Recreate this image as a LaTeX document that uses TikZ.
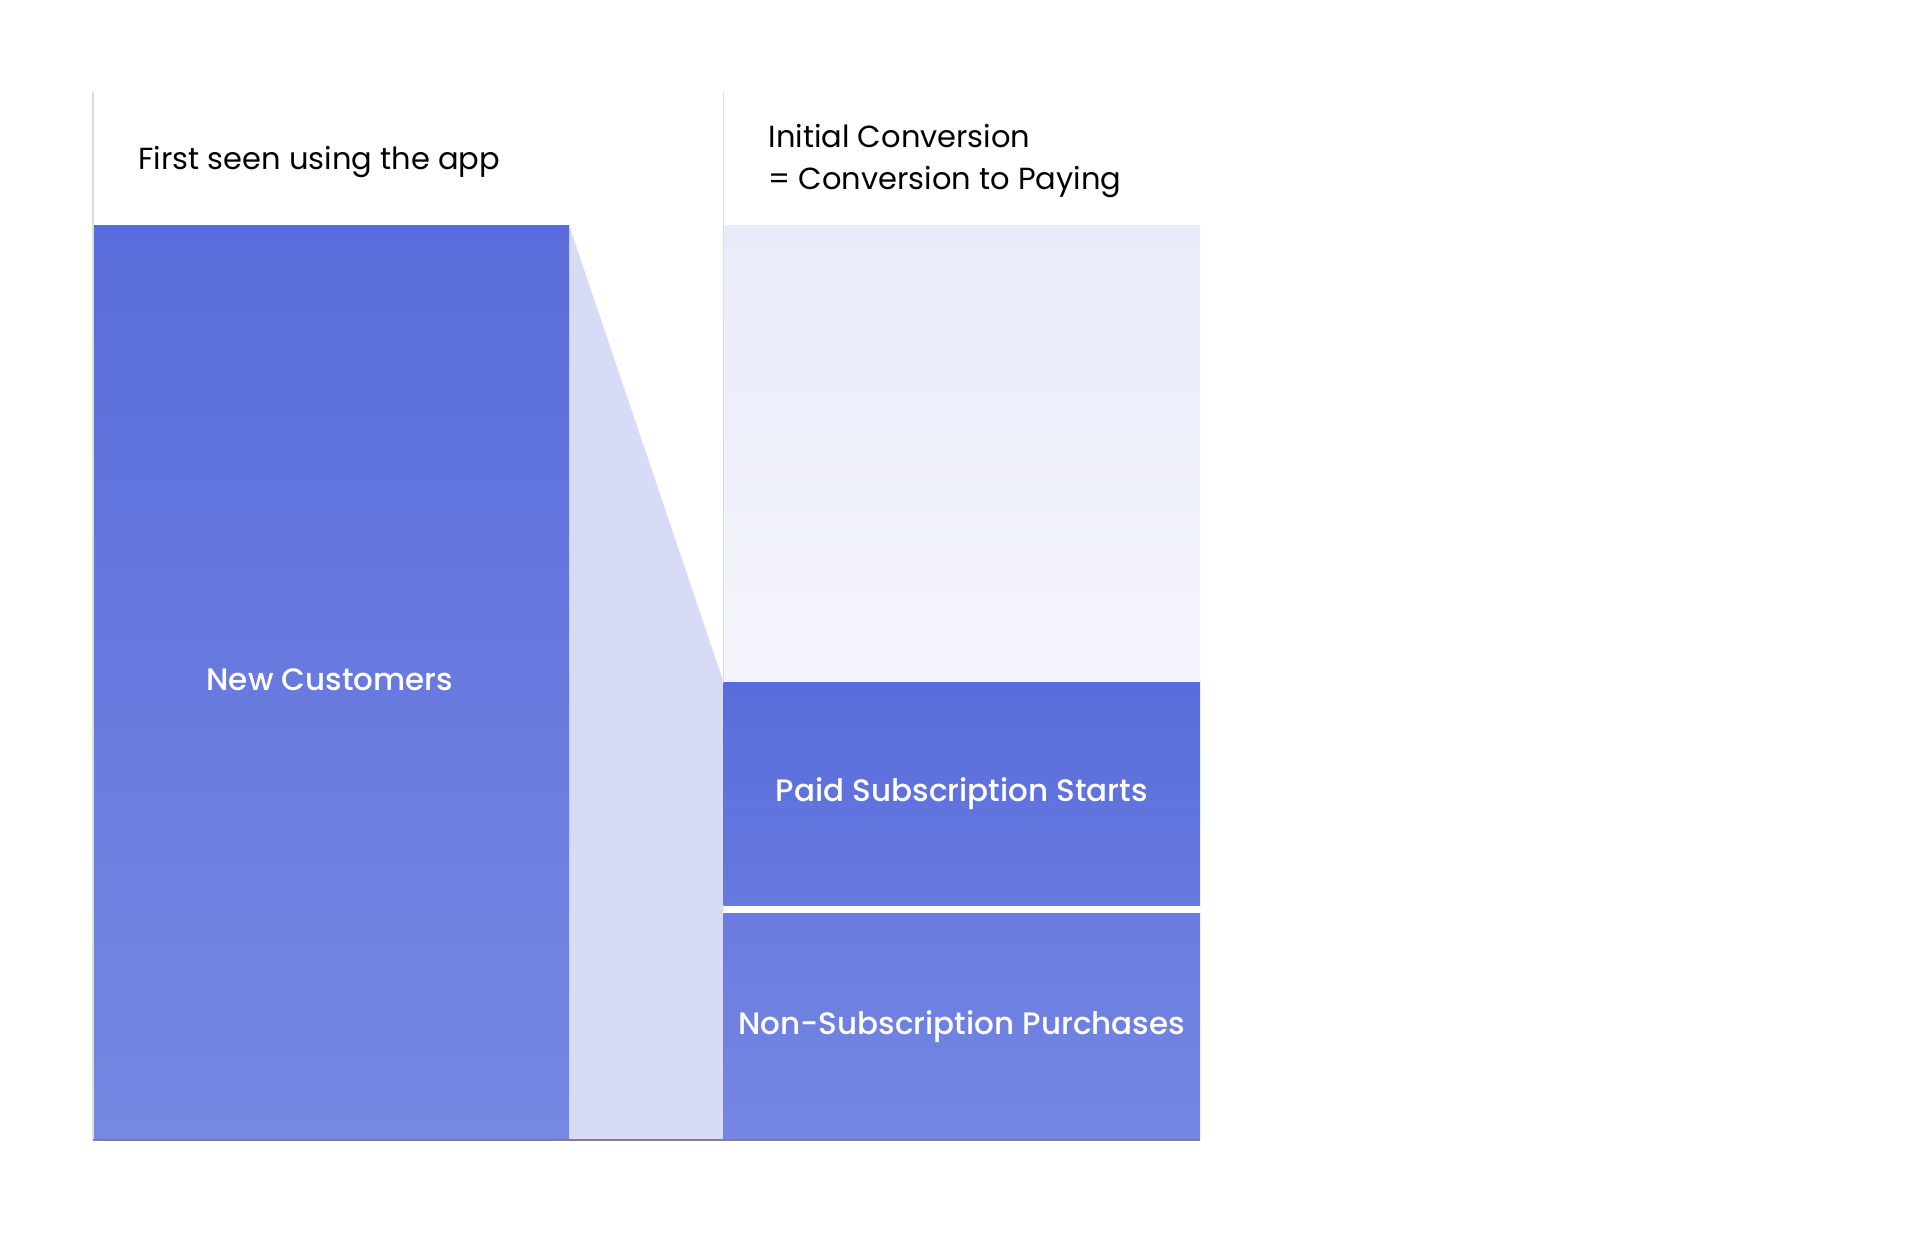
\documentclass[tikz,border=0pt]{standalone}
\usepackage{fontspec}
\setmainfont{Poppins}
\newfontfamily\medfont{Poppins Medium}
\definecolor{bluetop}{HTML}{596CDB}
\definecolor{bluebot}{HTML}{7788E2}
\definecolor{paidbot}{HTML}{6779DE}
\definecolor{nontop}{HTML}{6A7CDF}
\definecolor{nonbot}{HTML}{7587E2}
\definecolor{funnel}{HTML}{D7DBF5}
\definecolor{lighttop}{HTML}{E8EBF9}
\definecolor{lightbot}{HTML}{F4F5FB}
\definecolor{guide}{HTML}{DDDDDD}
\definecolor{base}{HTML}{808080}
\tikzset{
  bar/.style={anchor=north west, inner sep=0pt, outer sep=0pt, draw=none},
  barlabel/.style={text=white, font=\medfont\fontsize{31}{36}\selectfont},
  header/.style={anchor=west, align=left, text=black, font=\fontsize{30.5}{42}\selectfont},
  guideline/.style={draw=guide, line width=1.5pt},
  baseline/.style={draw=base, line width=2pt}
}
\begin{document}
\begin{tikzpicture}[x=1pt,y=-1pt]
\useasboundingbox[fill=white] (0,0) rectangle (1926,1232);
% funnel connector
\coordinate (ftl) at (569,225);
\coordinate (ftr) at (723.5,682);
\coordinate (fbr) at (723.5,1140);
\coordinate (fbl) at (569,1140);
\fill[funnel] (ftl) -- (ftr) -- (fbr) -- (fbl) -- cycle;
% bars
\node[bar, shade, top color=bluetop, bottom color=bluebot, minimum width=476pt, minimum height=915pt] (new) at (93,225) {};
\node[bar, shade, top color=lighttop, bottom color=lightbot, minimum width=476.5pt, minimum height=457pt] (light) at (723.5,225) {};
\node[bar, shade, top color=bluetop, bottom color=paidbot, minimum width=476.5pt, minimum height=223pt] (paid) at (723.5,682) {};
\node[bar, shade, top color=nontop, bottom color=nonbot, minimum width=476.5pt, minimum height=227pt] (non) at (723.5,913) {};
% guides
\coordinate (g1t) at (93,92);
\coordinate (g2t) at (723.5,92);
\draw[guideline] (g1t) -- (new.south west);
\draw[guideline] (g2t) -- (paid.north west);
\draw[baseline] (new.south west) -- (non.south east);
% labels
\node[barlabel] (newlab) at (330,680) {New Customers};
\node[barlabel] (paidlab) at (paid.center) {Paid Subscription Starts};
\node[barlabel] (nonlab) at (non.center) {Non-Subscription Purchases};
\node[header] (h1) at (135,162) {First seen using the app};
\node[header] (h2) at (765,161) {Initial Conversion\\= Conversion to Paying};
\end{tikzpicture}
\end{document}
